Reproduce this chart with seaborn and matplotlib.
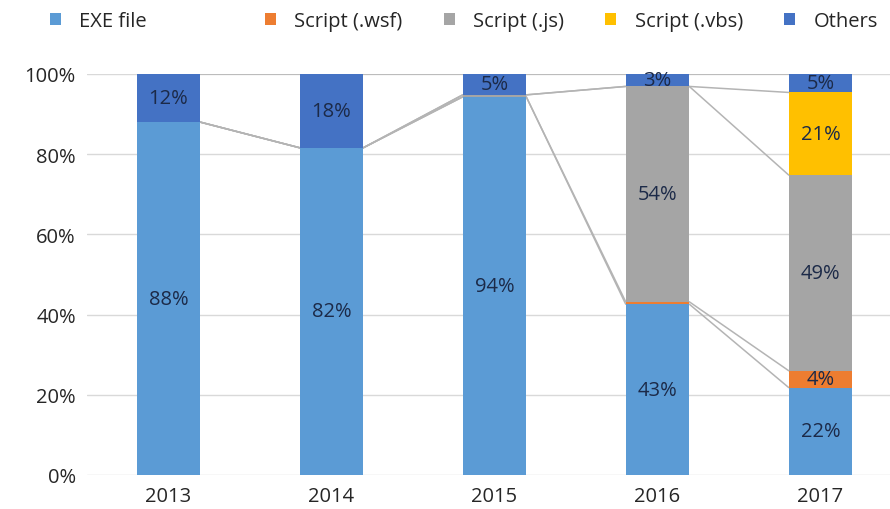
import pandas as pd
import seaborn as sns
import matplotlib.pyplot as plt
from matplotlib.patches import Patch

# values (percent of each year)
years = ["2013", "2014", "2015", "2016", "2017"]
exe_file = [88.0, 81.6, 94.3, 42.6, 21.8]
script_wsf = [0.0, 0.0, 0.0, 0.6, 4.2]
script_js = [0.0, 0.0, 0.5, 53.7, 48.8]
script_vbs = [0.0, 0.0, 0.0, 0.0, 20.6]
others = [12.0, 18.4, 5.2, 3.1, 4.6]

series = ["EXE file", "Script (.wsf)", "Script (.js)", "Script (.vbs)", "Others"]
colors = ["#5B9BD5", "#ED7D31", "#A5A5A5", "#FFC000", "#4472C4"]

df = pd.DataFrame({"year": years, "EXE file": exe_file, "Script (.wsf)": script_wsf,
                   "Script (.js)": script_js, "Script (.vbs)": script_vbs, "Others": others})
cum = df[series].cumsum(axis=1)

sns.set_style("white")
plt.rcParams["font.family"] = ["Open Sans", "DejaVu Sans"]

fig = plt.figure(figsize=(8.9, 5.1), dpi=100)
ax = fig.add_axes([87 / 890, 34 / 510, 815 / 890, 401 / 510])

w = 0.39
#Draw stacked bars from the top layer down
for name, col in zip(reversed(series), reversed(colors)):
    sns.barplot(x="year", y=name, data=cum.assign(year=df["year"]), color=col,
                width=w, saturation=1, ax=ax, order=years, linewidth=0, zorder=2)

#Series lines between neighbouring bars
for name in series:
    for i in range(len(years) - 1):
        ax.plot([i + w / 2, i + 1 - w / 2], [cum[name][i], cum[name][i + 1]],
                color="#b4b4b4", lw=1.1, zorder=1)

#Data labels
for name in series:
    for i in range(len(years)):
        v = df[name][i]
        if v >= 2:
            ax.text(i, cum[name][i] - v / 2, f"{v:.0f}%", ha="center", va="center",
                    fontsize=14.5, color="#1c2a48", zorder=3)

ax.set_xlim(-0.5, 4.5)
ax.set_ylim(0, 100)
ax.set_yticks(range(0, 101, 20))
ax.set_yticklabels([f"{t}%" for t in range(0, 101, 20)])
ax.yaxis.grid(True, color="#d9d9d9", lw=1, zorder=0)
ax.set_axisbelow(True)
ax.set(xlabel="", ylabel="")
sns.despine(ax=ax, left=True, bottom=True)
ax.tick_params(axis="both", length=0, labelsize=14.5, colors="#262626", pad=8)

#Legend across the top
handles = [Patch(facecolor=c, edgecolor="none") for c in colors]
fig.legend(handles[:1], series[:1], loc="center left", bbox_to_anchor=(32 / 890, 1 - 22 / 510),
           frameon=False, fontsize=14.5, handlelength=0.55, handleheight=0.55, handletextpad=0.9,
           labelcolor="#262626")
fig.legend(handles[1:], series[1:], loc="center left", bbox_to_anchor=(247 / 890, 1 - 22 / 510),
           ncol=4, frameon=False, fontsize=14.5, handlelength=0.55, handleheight=0.55,
           handletextpad=0.9, columnspacing=2.05, labelcolor="#262626")

fig.savefig("out.png", dpi=100)
